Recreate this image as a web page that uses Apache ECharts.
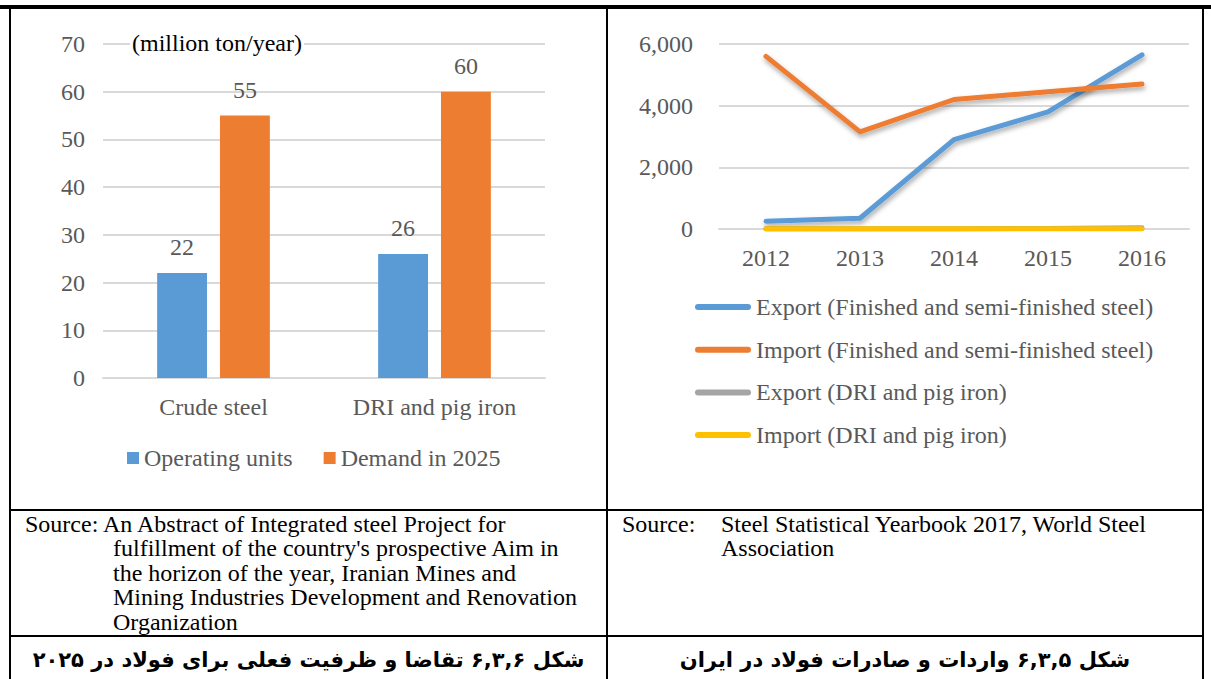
<!DOCTYPE html>
<html>
<head>
<meta charset="utf-8">
<script src="https://cdn.jsdelivr.net/npm/echarts@6/dist/echarts.min.js"></script>
<style>
  html, body { margin: 0; padding: 0; background: #fff; }
  #page { position: relative; width: 1211px; height: 679px; overflow: hidden; background: #fff; }
  #chart { position: absolute; left: 0; top: 0; width: 1211px; height: 679px; }
  .rule { position: absolute; background: #000; }
  .src { position: absolute; font-family: "Liberation Serif", "Times New Roman", serif; font-size: 24px; line-height: 24px; color: #000; white-space: pre; }
  .cap { position: absolute; top: 638px; height: 41px; line-height: 44px; text-align: center; direction: rtl;
         font-family: "DejaVu Sans", sans-serif; font-weight: bold; font-size: 21px; color: #000; white-space: nowrap; }
</style>
</head>
<body>
<div id="page">
  <div id="chart"></div>

  <!-- table frame -->
  <div class="rule" style="left:0; top:5px; width:1211px; height:4px;"></div>
  <div class="rule" style="left:9px; top:9px; width:2px; height:670px;"></div>
  <div class="rule" style="left:606px; top:9px; width:2px; height:670px;"></div>
  <div class="rule" style="left:1202px; top:9px; width:2px; height:670px;"></div>
  <div class="rule" style="left:9px; top:509px; width:1195px; height:2px;"></div>
  <div class="rule" style="left:9px; top:635px; width:1195px; height:2px;"></div>

  <!-- sources -->
  <div class="src" style="left:25px; top:512px;">Source: An Abstract of Integrated steel Project for</div>
  <div class="src" style="left:113px; top:536px; line-height:24.5px;">fulfillment of the country's prospective Aim in
the horizon of the year, Iranian Mines and
Mining Industries Development and Renovation
Organization</div>
  <div class="src" style="left:622px; top:512px;">Source:</div>
  <div class="src" style="left:721px; top:512px;">Steel Statistical Yearbook 2017, World Steel
Association</div>

  <!-- figure captions -->
  <div class="cap" style="left:11px; width:595px;">شکل ۶,۳,۶ تقاضا و ظرفیت فعلی برای فولاد در ۲۰۲۵</div>
  <div class="cap" style="left:608px; width:594px;">شکل ۶,۳,۵ واردات و صادرات فولاد در ایران</div>
</div>

<script>
// Capacity chart (million ton/year)
const barCategories = ['Crude steel', 'DRI and pig iron'];
const operatingUnits = [22, 26];
const demand2025 = [55, 60];

// Trade chart (thousand tonnes)
const years = ['2012', '2013', '2014', '2015', '2016'];
const exportFinished = [250, 350, 2900, 3800, 5650];
const importFinished = [5600, 3150, 4200, 4450, 4700];
const exportDri = [10, 10, 10, 15, 40];
const importDri = [5, 5, 5, 5, 5];

const FONT = '"Liberation Serif", "Times New Roman", serif';
const FS = 24;
const GREY_TEXT = '#595959';
const GRID_LINE = { show: true, lineStyle: { color: '#d9d9d9', width: 2 } };
const BLUE = '#5b9bd5', ORANGE = '#ed7d31', GREY = '#a5a5a5', YELLOW = '#ffc000';
// capsule-shaped legend key for the thick lines
const LINE_KEY = 'path://M3,0 L53,0 A3,3 0 0 1 53,6 L3,6 A3,3 0 0 1 3,0 Z';

// thick line; the soft drop shadow is kept for lines that are not flat,
// since an SVG filter on a zero-height path would hide it
const lineSeries = (name, data, color, z, shadow) => ({
  name, type: 'line', xAxisIndex: 1, yAxisIndex: 1, data, z,
  symbol: 'none', showSymbol: false, clip: false,
  color,
  lineStyle: Object.assign(
    { width: 5, color, cap: 'round', join: 'round' },
    shadow ? { shadowColor: 'rgba(0,0,0,0.35)', shadowBlur: 5, shadowOffsetX: 1, shadowOffsetY: 3 } : {}
  )
});

const chart = echarts.init(document.getElementById('chart'), null, { renderer: 'svg' });
chart.setOption({
  animation: false,
  textStyle: { fontFamily: FONT },
  grid: [
    { left: 103, top: 44, width: 442, height: 334 },
    { left: 719, top: 44, width: 470, height: 185 }
  ],
  xAxis: [
    {
      gridIndex: 0, type: 'category', data: barCategories,
      axisLine: { lineStyle: { color: '#d9d9d9', width: 2 } },
      axisTick: { show: false },
      axisLabel: { color: GREY_TEXT, fontSize: FS, fontFamily: FONT, margin: 17 }
    },
    {
      gridIndex: 1, type: 'category', data: years, boundaryGap: true, z: 0,
      axisLine: { lineStyle: { color: '#d9d9d9', width: 2 } },
      axisTick: { show: false },
      axisLabel: { color: GREY_TEXT, fontSize: FS, fontFamily: FONT, margin: 17 }
    }
  ],
  yAxis: [
    {
      gridIndex: 0, type: 'value', min: 0, max: 70, interval: 10,
      axisLine: { show: false }, axisTick: { show: false },
      splitLine: GRID_LINE,
      axisLabel: { color: GREY_TEXT, fontSize: FS, fontFamily: FONT, margin: 18 }
    },
    {
      gridIndex: 1, type: 'value', min: 0, max: 6000, interval: 2000, z: 0,
      axisLine: { show: false }, axisTick: { show: false },
      splitLine: GRID_LINE,
      axisLabel: {
        color: GREY_TEXT, fontSize: FS, fontFamily: FONT, margin: 26,
        formatter: v => v.toLocaleString('en-US')
      }
    }
  ],
  legend: [
    {
      data: ['Operating units', 'Demand in 2025'],
      left: 127, top: 446, padding: 0, orient: 'horizontal',
      icon: 'rect', itemWidth: 12, itemHeight: 12, itemGap: 31,
      textStyle: { color: GREY_TEXT, fontSize: FS, fontFamily: FONT, lineHeight: 24 }
    },
    {
      data: ['Export (Finished and semi-finished steel)', 'Import (Finished and semi-finished steel)',
             'Export (DRI and pig iron)', 'Import (DRI and pig iron)'],
      left: 695, top: 295, padding: 0, orient: 'vertical',
      icon: LINE_KEY, itemWidth: 56, itemHeight: 6, itemGap: 18.7,
      textStyle: { color: GREY_TEXT, fontSize: FS, fontFamily: FONT, lineHeight: 24 }
    }
  ],
  graphic: [
    {
      type: 'text', left: 130, top: 31, z: 10,
      style: {
        text: '(million ton/year)', fill: '#000', font: FS + 'px ' + FONT,
        backgroundColor: '#fff', padding: [0, 2]
      }
    }
  ],
  series: [
    {
      name: 'Operating units', type: 'bar', xAxisIndex: 0, yAxisIndex: 0,
      data: operatingUnits, color: BLUE,
      barGap: '26%', barCategoryGap: '49%',
      label: { show: true, position: 'top', distance: 14, color: GREY_TEXT, fontSize: FS, fontFamily: FONT }
    },
    {
      name: 'Demand in 2025', type: 'bar', xAxisIndex: 0, yAxisIndex: 0,
      data: demand2025, color: ORANGE,
      barGap: '26%', barCategoryGap: '49%',
      label: { show: true, position: 'top', distance: 14, color: GREY_TEXT, fontSize: FS, fontFamily: FONT }
    },
    lineSeries('Export (Finished and semi-finished steel)', exportFinished, BLUE, 3, true),
    lineSeries('Import (Finished and semi-finished steel)', importFinished, ORANGE, 4, true),
    lineSeries('Export (DRI and pig iron)', exportDri, GREY, 2, false),
    lineSeries('Import (DRI and pig iron)', importDri, YELLOW, 5, false)
  ]
});
</script>
</body>
</html>
